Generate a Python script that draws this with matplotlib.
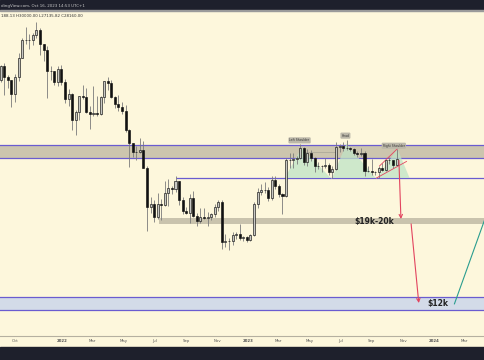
import pandas as pd
import matplotlib
matplotlib.use('Agg')
from matplotlib import pyplot as plt
import matplotlib.dates as mdates

# weekly candles, price in thousand USD (week starting Monday)
week0 = '2021-08-30'
opens = [47.1, 51.8, 48.3, 47.3, 43.2, 48.2, 54.7, 61.5, 61.3, 61.3, 63.3, 65.5, 59.7, 57.3, 50.1, 50.0, 46.7, 50.7,
         46.5, 41.8, 43.1, 36.3, 38.2, 42.4, 42.2, 38.4, 37.7, 38.0, 37.8, 42.2, 46.8, 46.4, 42.2, 40.4, 39.5, 38.5,
         34.1, 31.3, 29.4, 29.4, 29.9, 26.6, 20.5, 21.0, 19.3, 20.9, 20.8, 22.6, 23.3, 23.2, 24.3, 21.5, 20.0, 19.8,
         21.8, 19.4, 18.8, 19.3, 19.1, 19.2, 19.6, 20.6, 21.3, 16.3, 16.4, 16.5, 17.1, 17.2, 16.8, 16.9,
         16.6, 17.1, 20.9, 22.7, 23.0, 22.9, 21.8, 24.6, 23.6, 22.4, 22.1, 28.0, 27.9, 28.2, 28.3, 30.3, 27.6, 29.2,
         28.4, 26.9, 26.8, 26.9, 27.1, 25.9, 26.3, 30.5, 30.6, 30.2, 30.3, 30.1, 29.3, 29.0, 29.3, 26.1, 26.0, 25.8,
         25.9, 26.5, 26.2, 27.9, 27.9, 27.1]
highs = [52.0, 52.9, 48.8, 47.3, 49.2, 56.5, 62.0, 67.0, 63.7, 64.2, 69.0, 66.3, 59.8, 59.1, 51.9, 50.2, 51.9, 52.0,
         47.5, 44.4, 43.5, 38.9, 42.6, 45.8, 44.8, 39.8, 45.4, 42.6, 42.4, 47.0, 48.2, 47.2, 42.4, 42.9, 40.8, 40.0,
         34.2, 31.3, 30.6, 32.2, 31.7, 26.8, 21.9, 21.5, 22.5, 21.6, 24.3, 24.7, 23.6, 25.2, 24.4, 21.9, 20.5, 22.4,
         22.8, 19.7, 20.4, 20.4, 19.9, 19.7, 21.0, 21.5, 21.5, 17.2, 16.8, 17.4, 17.4, 18.4, 17.0, 17.0,
         17.2, 21.3, 23.3, 23.9, 24.2, 23.4, 25.2, 25.2, 23.9, 22.6, 28.4, 29.2, 29.2, 28.7, 31.0, 30.5, 30.0, 29.8,
         28.6, 27.6, 27.0, 28.4, 27.4, 26.8, 31.4, 31.0, 31.4, 31.8, 30.4, 30.3, 29.7, 30.2, 29.7, 26.8, 28.1, 26.1,
         26.9, 27.5, 28.0, 28.6, 28.0, 30.0]
lows = [46.5, 42.9, 44.7, 39.6, 40.8, 46.9, 54.4, 59.8, 58.0, 59.5, 62.3, 55.6, 53.5, 42.0, 47.3, 45.6, 45.5, 45.7,
        40.6, 39.7, 34.0, 32.9, 36.3, 41.6, 38.0, 34.3, 37.4, 37.2, 37.6, 40.5, 44.2, 42.0, 39.2, 38.5, 37.7, 33.7,
        26.7, 28.6, 28.0, 29.3, 26.5, 17.6, 19.7, 18.6, 19.0, 18.9, 20.7, 20.7, 22.4, 22.7, 20.8, 19.6, 19.6, 18.5,
        19.3, 18.1, 18.5, 19.0, 18.2, 18.9, 19.2, 20.0, 15.6, 15.8, 15.5, 16.0, 16.7, 16.6, 16.4, 16.3,
        16.5, 17.0, 20.4, 22.3, 22.5, 21.4, 21.5, 23.1, 21.9, 19.6, 21.9, 26.6, 26.5, 27.2, 28.2, 27.1, 26.9, 27.7,
        25.8, 26.4, 25.9, 26.6, 25.4, 24.8, 26.2, 29.5, 29.7, 29.9, 29.6, 28.9, 28.6, 28.7, 25.2, 25.8, 25.3, 25.4,
        24.9, 26.1, 26.0, 27.2, 26.5, 27.1]
closes = [51.8, 48.3, 47.3, 43.2, 48.2, 54.7, 61.5, 61.3, 61.3, 63.3, 65.5, 59.7, 57.3, 50.1, 50.0, 46.7, 50.7, 46.5,
          41.8, 43.1, 36.3, 38.2, 42.4, 42.2, 38.4, 37.7, 38.0, 37.8, 42.2, 46.8, 46.4, 42.2, 40.4, 39.5, 38.5, 34.1,
          31.3, 29.4, 29.4, 29.9, 26.6, 20.5, 21.0, 19.3, 20.9, 20.8, 22.6, 23.3, 23.2, 24.3, 21.5, 20.0, 19.8, 21.8,
          19.4, 18.8, 19.3, 19.1, 19.2, 19.6, 20.6, 21.3, 16.3, 16.4, 16.5, 17.1, 17.2, 16.8, 16.9, 16.6,
          17.1, 20.9, 22.7, 23.0, 22.9, 21.8, 24.6, 23.6, 22.4, 22.1, 28.0, 27.9, 28.2, 28.3, 30.3, 27.6, 29.2, 28.4,
          26.9, 26.8, 26.9, 27.1, 25.9, 26.3, 30.5, 30.6, 30.2, 30.3, 30.1, 29.3, 29.0, 29.3, 26.1, 26.0, 25.8, 25.9,
          26.5, 26.2, 27.9, 27.9, 27.1, 28.2]

# zones drawn on the chart (thousand USD)
resist_zone = (28.3, 30.8)
neckline = 24.8
neckline_start = '2022-08-12'
support_zone = (18.4, 19.1)
support_start = '2022-07-11'
target_zone = (10.5, 11.4)

# head and shoulders outline (date, price)
hs_dates = ['2023-03-14', '2023-04-16', '2023-06-14', '2023-07-13', '2023-09-10', '2023-10-21', '2023-11-14']
hs_prices = [24.85, 30.3, 24.7, 31.1, 24.7, 30.1, 24.85]
hs_labels = ['Left Shoulder', 'Head', 'Right Shoulder']
hs_label_dates = ['2023-04-12', '2023-07-11', '2023-10-14']
hs_label_prices = [31.8, 32.8, 30.7]

tick_dates = ['2021-10-01', '2022-01-01', '2022-03-01', '2022-05-01', '2022-07-01', '2022-09-01', '2022-11-01',
              '2023-01-01', '2023-03-01', '2023-05-01', '2023-07-01', '2023-09-01', '2023-11-01',
              '2024-01-01', '2024-03-01']
tick_labels = ['Oct', '2022', 'Mar', 'May', 'Jul', 'Sep', 'Nov', '2023', 'Mar', 'May', 'Jul', 'Sep', 'Nov',
               '2024', 'Mar']

cream = '#fdf7dc'
purple = '#6a5cd0'
red = '#e2445f'
dark = '#1e202c'

fig = plt.figure(figsize=(4.85, 3.6), dpi=100, facecolor=cream)
ax = fig.add_axes([0, 24 / 360, 1, 325 / 360])
ax.set_facecolor(cream)

d = lambda s: mdates.date2num(pd.Timestamp(s))
xmin, xmax = d('2021-09-01'), d('2024-04-10')

# zones
ax.axhspan(*resist_zone, color='#ccc5ae', lw=0, zorder=1)
for lvl in resist_zone:
    ax.axhline(lvl, color=purple, lw=0.9, zorder=2)
ax.hlines(neckline, d(neckline_start), xmax, color=purple, lw=0.9, zorder=2)
ax.fill_between([d(support_start), xmax], support_zone[0], support_zone[1], color='#c9c3ad', lw=0, zorder=1)
ax.axhspan(*target_zone, color='#d3dbe8', lw=0, zorder=1)
for lvl in target_zone:
    ax.axhline(lvl, color=purple, lw=0.9, zorder=2)

# head and shoulders shading
hs_x = [d(s) for s in hs_dates]
ax.fill(hs_x, hs_prices, color='#bfe3c6', alpha=0.75, lw=0, zorder=2)
ax.plot([d('2023-04-18'), d('2023-06-20')], [29.5, 29.5], color='#a8a496', lw=0.5, zorder=2)
ax.plot([d('2023-09-16'), d('2023-10-21')], [26.9, 30.1], color=red, lw=0.6, zorder=4)
ax.plot([d('2023-09-10'), d('2023-11-08')], [24.85, 27.7], color=red, lw=0.6, zorder=4)
for lab, ld, lp in zip(hs_labels, hs_label_dates, hs_label_prices):
    ax.text(d(ld), lp, lab, fontsize=2.2, color='#333', ha='center', va='center', zorder=6,
            bbox=dict(boxstyle='round,pad=0.35', fc='#bcb8aa', ec='none'))

# candles
dates = pd.date_range(week0, periods=len(closes), freq='7D') + pd.Timedelta(days=3.5)
xs = mdates.date2num(dates)
ax.vlines(xs, lows, highs, color='#7a7a7a', lw=0.6, zorder=3)
for x, o, c in zip(xs, opens, closes):
    up = c >= o
    ax.bar(x, abs(c - o) if abs(c - o) > 0.05 else 0.1, bottom=min(o, c), width=4.0,
           color='#c8c8c4' if up else '#111111', edgecolor='#111111', lw=0.45, zorder=4)

# projection arrows
ax.annotate('', xy=(d('2023-10-28'), 19.0), xytext=(d('2023-10-24'), 27.9),
            arrowprops=dict(arrowstyle='->', color=red, lw=0.8, shrinkA=0, shrinkB=0, mutation_scale=6), zorder=5)
ax.annotate('', xy=(d('2023-12-02'), 10.96), xytext=(d('2023-11-17'), 18.4),
            arrowprops=dict(arrowstyle='->', color=red, lw=0.8, shrinkA=0, shrinkB=0, mutation_scale=6), zorder=5)
ax.plot([d('2024-02-10'), d('2024-04-29')], [10.9, 22.7], color='#2a9d8f', lw=0.8, zorder=5)

ax.text(d('2023-09-06'), 18.75, '$19k-20k', fontsize=5.5, fontweight='bold', color='#222', ha='center', va='center', zorder=6)
ax.text(d('2024-01-08'), 10.9, '$12k', fontsize=5.5, fontweight='bold', color='#222', ha='center', va='center', zorder=6)

ax.set_yscale('log')
ax.set_ylim(8.83, 74.2)
ax.set_xlim(xmin, xmax)
ax.set_yticks([])
ax.minorticks_off()
ax.set_xticks([d(s) for s in tick_dates])
ax.set_xticklabels(tick_labels)
for t in ax.get_xticklabels():
    if t.get_text().startswith('20'):
        t.set_fontweight('bold')
ax.tick_params(axis='x', length=0, pad=2.2, labelsize=2.8, labelcolor='#555')
for s in ['top', 'left', 'right']:
    ax.spines[s].set_visible(False)
ax.spines['bottom'].set_color('#b5b0a0')
ax.spines['bottom'].set_linewidth(0.8)

# top and bottom bars of the screenshot
fig.patches.append(plt.Rectangle((0, 1 - 10 / 360), 1, 10 / 360, transform=fig.transFigure, color=dark, zorder=0))
fig.patches.append(plt.Rectangle((0, 1 - 11 / 360), 1, 1 / 360, transform=fig.transFigure, color='#9a9a9a', zorder=0))
fig.patches.append(plt.Rectangle((0, 0), 1, 13 / 360, transform=fig.transFigure, color=dark, zorder=0))
# screenshot is cropped at the left, only the visible part of the header is kept
fig.text(1 / 485, 1 - 5.5 / 360, 'dingView.com, Oct 16, 2023 14:53 UTC+1', fontsize=2.9, color='#c8c8c8',
         ha='left', va='center')
fig.text(1 / 485, 1 - 16 / 360, '188.13 H30000.00 L27135.82 C28160.00', fontsize=2.9, color='#333',
         ha='left', va='center')

fig.savefig('out.png', dpi=100, facecolor=cream)
